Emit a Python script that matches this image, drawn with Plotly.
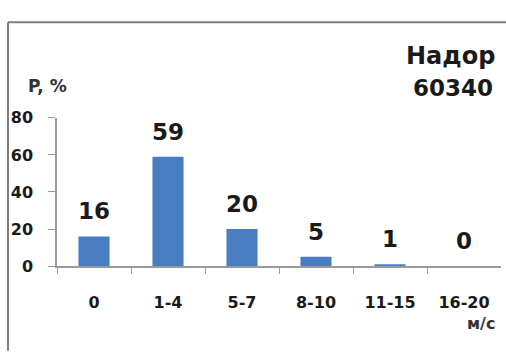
import plotly.graph_objects as go

# Wind speed classes (m/s) and frequency of occurrence (%)
categories = ["0", "1-4", "5-7", "8-10", "11-15", "16-20"]
frequency = [16, 59, 20, 5, 1, 0]
y_ticks = [0, 20, 40, 60, 80]

W, H = 506, 354
FONT = "'DejaVu Sans', sans-serif"
TEXT = "#1a1a1a"
AXIS = "#9a9a9a"

fig = go.Figure()
fig.add_trace(go.Bar(
    x=categories,
    y=frequency,
    width=0.42,
    marker=dict(color="#4a7cc2", line=dict(width=0)),
    hoverinfo="skip",
))

# value labels above each bar
for cat, val in zip(categories, frequency):
    fig.add_annotation(
        x=cat, y=val, xref="x", yref="y",
        xanchor="center", yanchor="bottom", yshift=10, showarrow=False,
        text=f"<b>{val}</b>", font=dict(family=FONT, size=23, color=TEXT),
    )

# plot area expressed in pixels of the 506x354 canvas
x0, x1 = 57, 501
y_zero, y_top = 271.7, 115

fig.update_layout(
    width=W, height=H,
    margin=dict(l=0, r=0, t=0, b=0),
    paper_bgcolor="white",
    plot_bgcolor="white",
    showlegend=False,
    font=dict(family=FONT, color=TEXT),
    xaxis=dict(
        domain=[x0 / W, x1 / W],
        type="category",
        range=[-0.5, len(categories) - 0.5],
        showline=True, linecolor=AXIS, linewidth=1.5,
        ticks="outside", tickson="boundaries", ticklen=6,
        tickcolor=AXIS, tickwidth=1,
        showgrid=False, zeroline=False,
        tickfont=dict(family=FONT, size=16, color=TEXT, weight="bold"),
        ticklabelstandoff=21,
        fixedrange=True,
    ),
    yaxis=dict(
        domain=[(H - y_zero) / H, (H - y_top) / H],
        range=[0, 80],
        tickvals=y_ticks,
        showline=True, linecolor=AXIS, linewidth=1.5,
        ticks="outside", ticklen=7, tickcolor=AXIS, tickwidth=1,
        showgrid=False, zeroline=False,
        tickfont=dict(family=FONT, size=16, color=TEXT, weight="bold"),
        ticklabelstandoff=12,
        fixedrange=True,
    ),
)

# station name and index
fig.add_annotation(
    x=497 / W, y=1 - 50 / H, xref="paper", yref="paper",
    xanchor="right", yanchor="middle", showarrow=False,
    text="<b>Надор</b>", font=dict(family=FONT, size=24, color=TEXT),
)
fig.add_annotation(
    x=495 / W, y=1 - 84 / H, xref="paper", yref="paper",
    xanchor="right", yanchor="middle", showarrow=False,
    text="<b>60340</b>", font=dict(family=FONT, size=23, color=TEXT),
)
# axis titles
fig.add_annotation(
    x=26 / W, y=1 - 81 / H, xref="paper", yref="paper",
    xanchor="left", yanchor="middle", showarrow=False,
    text="<b>P, %</b>", font=dict(family=FONT, size=17, color="#333333"),
)
fig.add_annotation(
    x=497 / W, y=1 - 332 / H, xref="paper", yref="paper",
    xanchor="right", yanchor="middle", showarrow=False,
    text="<b>м/с</b>", font=dict(family=FONT, size=16, color="#333333"),
)

# chart frame (top and left edges visible)
fig.add_shape(type="line", xref="paper", yref="paper",
              x0=8 / W, x1=1.02, y0=1 - 14 / H, y1=1 - 14 / H,
              line=dict(color="#7f7f7f", width=2))
fig.add_shape(type="line", xref="paper", yref="paper",
              x0=8 / W, x1=8 / W, y0=1 - 14 / H, y1=-0.02,
              line=dict(color="#7f7f7f", width=2))

fig.write_html("out.html")
